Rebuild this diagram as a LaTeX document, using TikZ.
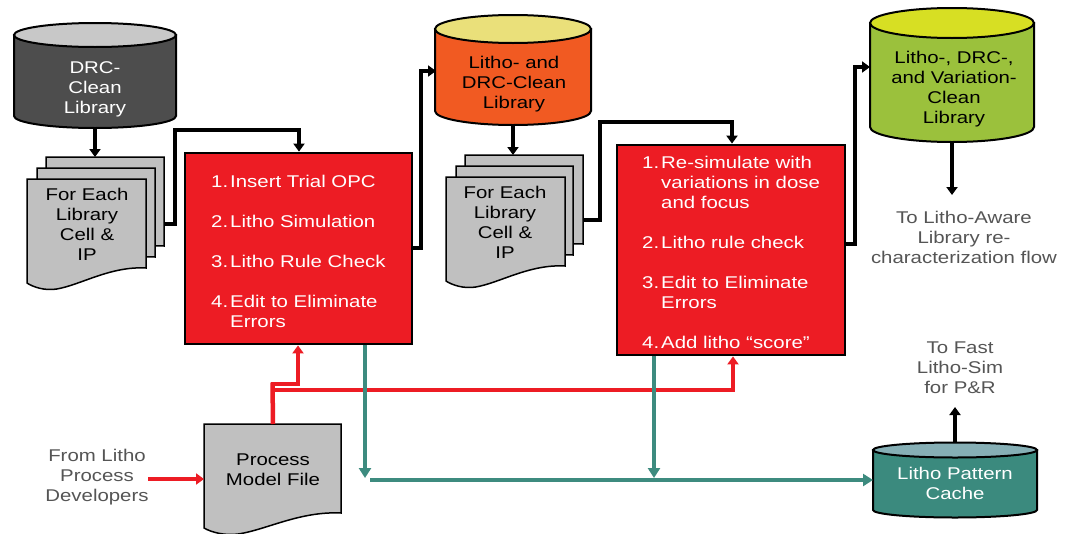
\documentclass[tikz,border=0pt]{standalone}
\usepackage{fontspec}
\setmainfont{Liberation Sans}[FakeStretch=1.2]
\usetikzlibrary{arrows.meta}
\definecolor{cylAbody}{HTML}{4D4D4D}
\definecolor{cylAtop}{HTML}{C8C8C8}
\definecolor{sheetgrey}{HTML}{C0C0C0}
\definecolor{cylBbody}{HTML}{F15A22}
\definecolor{cylBtop}{HTML}{EAE07A}
\definecolor{cylCbody}{HTML}{9BC13C}
\definecolor{cylCtop}{HTML}{D7DF23}
\definecolor{cacheBody}{HTML}{3B8A7E}
\definecolor{cacheTop}{HTML}{86AFB5}
\definecolor{boxred}{HTML}{ED1C24}
\definecolor{tealline}{HTML}{3D8B7F}
\definecolor{greytext}{HTML}{555555}
\newcommand{\cylshape}[7]{%
  \draw[cylline, fill=#6] (#1-#4,#2) -- (#1-#4,#3) arc[start angle=180, end angle=360, x radius=#4pt, y radius=#5pt] -- (#1+#4,#2) -- cycle;
  \draw[cylline, fill=#7] (#1,#2) ellipse[x radius=#4pt, y radius=#5pt];
}
\newcommand{\docpath}[4]{%
  (#1,#2) -- (#1+#3,#2) -- (#1+#3,#2+#4-15) .. controls (#1+0.7*#3,#2+#4-17) and (#1+0.45*#3,#2+#4+2) .. (#1+0.25*#3,#2+#4+6) .. controls (#1+0.15*#3,#2+#4+8) and (#1+0.05*#3,#2+#4+4) .. (#1,#2+#4) -- cycle}
\tikzset{
  cylline/.style={draw=black, line width=2pt},
  sheet/.style={draw=black, line width=1.5pt, fill=sheetgrey},
  redbox/.style={draw=black, line width=2.8pt, fill=boxred},
  txt/.style={inner sep=0pt, align=center, font=\fontsize{17}{20}\selectfont},
  boxtxt/.style={inner sep=0pt, text=white, font=\fontsize{17}{20}\selectfont},
  blk/.style={draw=black, line width=3.4pt, -{Triangle[width=11pt,length=8pt]}},
  redline/.style={draw=boxred, line width=4pt},
  redarr/.style={redline, -{Triangle[width=11pt,length=8pt]}},
  tealarr/.style={draw=tealline, line width=4.5pt, -{Triangle[width=12pt,length=10pt]}},
}
\begin{document}
\begin{tikzpicture}[x=1pt,y=-1pt]
\useasboundingbox (0,0) rectangle (1071,533);
\fill[white] (0,0) rectangle (1071,533);

% ---- Cylinder 1: DRC-Clean Library
\cylshape{95}{35}{116}{81}{12}{cylAbody}{cylAtop}
\node[txt, text=white] (cylA) at (95,89) {DRC-\\Clean\\Library};
\coordinate (cylAbot) at (95,128);

% ---- Stack 1
\draw[sheet] \docpath{46}{157}{118}{104};
\draw[sheet] \docpath{37}{168}{118}{104};
\draw[sheet] \docpath{27}{179}{119}{104};
\node[txt] (stackA) at (87,224) {For Each\\Library\\Cell \&\\IP};
\coordinate (stackAtop) at (95,157);
\coordinate (stackAright) at (164,224);

% ---- Red box 1
\node[redbox, minimum width=227pt, minimum height=191pt, inner sep=0pt] (boxA) at (298.5,248.5) {};
\node[boxtxt, anchor=base west] (boxAtxt) at (211,187) {\begin{tabular}[t]{@{}l@{\hspace{2pt}}l@{}}1. & Insert Trial OPC\\[20pt] 2. & Litho Simulation\\[20pt] 3. & Litho Rule Check\\[20pt] 4. & Edit to Eliminate\\ & Errors\end{tabular}};

% ---- Cylinder 2
\cylshape{513}{29}{111}{78}{14}{cylBbody}{cylBtop}
\node[txt] (cylB) at (514,84) {Litho- and\\DRC-Clean\\Library};
\coordinate (cylBbot) at (513,125);
\coordinate (cylBleft) at (436,71);

% ---- Stack 2
\draw[sheet] \docpath{465}{155}{118}{104};
\draw[sheet] \docpath{456}{166}{117}{104};
\draw[sheet] \docpath{446}{177}{119}{104};
\node[txt] (stackB) at (505,222) {For Each\\Library\\Cell \&\\IP};
\coordinate (stackBtop) at (513,155);
\coordinate (stackBright) at (583,220);

% ---- Red box 2
\node[redbox, minimum width=228pt, minimum height=210pt, inner sep=0pt] (boxB) at (731,250) {};
\node[boxtxt, anchor=base west] (boxBtxt) at (642,168) {\begin{tabular}[t]{@{}l@{\hspace{2pt}}l@{}}1. & Re-simulate with\\ & variations in dose\\ & and focus\\[20pt] 2. & Litho rule check\\[20pt] 3. & Edit to Eliminate\\ & Errors\\[20pt] 4. & Add litho “score”\end{tabular}};

% ---- Cylinder 3
\cylshape{952}{23}{127}{82}{15}{cylCbody}{cylCtop}
\node[txt] (cylC) at (954,89) {Litho-, DRC-,\\and Variation-\\Clean\\Library};
\coordinate (cylCbot) at (952,142);
\coordinate (cylCleft) at (870,67);
\node[txt, text=greytext] (awareTxt) at (964,237) {To Litho-Aware\\Library re-\\characterization flow};
\coordinate (awareTop) at (952,195);

% ---- Cache cylinder
\cylshape{955}{450}{510}{82}{7.5}{cacheBody}{cacheTop}
\node[txt, text=white] (cache) at (955,483) {Litho Pattern\\Cache};
\coordinate (cacheTop) at (955,443);
\coordinate (cacheLeft) at (873,480);
\node[txt, text=greytext] (fastTxt) at (960,368) {To Fast\\Litho-Sim\\for P\&R};
\coordinate (fastBot) at (955,407);

% ---- Process Model File
\draw[sheet] \docpath{204}{424}{137}{104};
\node[txt] (pmf) at (273,470) {Process\\Model File};
\coordinate (pmfTop) at (273,424);
\coordinate (pmfLeft) at (204,479);
\node[txt, text=greytext] (fromTxt) at (97,477) {From Litho\\Process\\Developers};
\coordinate (fromRight) at (148,479);

% ---- Black connectors
\draw[blk] (cylAbot) -- (stackAtop);
\draw[blk] (stackAright) -- (175,224) -- (175,130) -- (299,130) -- (boxA.north -| 299,0);
\draw[blk] (boxA.east |- 0,248) -- (421,248) -- (421,71) -- (cylBleft);
\draw[blk] (cylBbot) -- (stackBtop);
\draw[blk] (stackBright) -- (600,220) -- (600,122) -- (732,122) -- (boxB.north -| 732,0);
\draw[blk] (boxB.east |- 0,244) -- (855,244) -- (855,67) -- (cylCleft);
\draw[blk] (cylCbot) -- (awareTop);
\draw[blk] (cacheTop) -- (fastBot);

% ---- Red connectors
\draw[redarr, line width=3.5pt] (fromRight) -- (pmfLeft);
\draw[redline, line width=4.5pt] (pmfTop) -- (272.5,382.5);
\draw[redarr, line width=3.5pt] (270.5,384) -- (298,384) -- (boxA.south -| 298,0);
\draw[redarr] (275,389.5) -- (733,389.5) -- (boxB.south -| 733,0);

% ---- Teal connectors
\draw[tealarr] (boxA.south -| 365,0) -- (365,478);
\draw[tealarr] (boxB.south -| 654,0) -- (654,478);
\draw[tealarr] (370,480) -- (cacheLeft);
\end{tikzpicture}
\end{document}
